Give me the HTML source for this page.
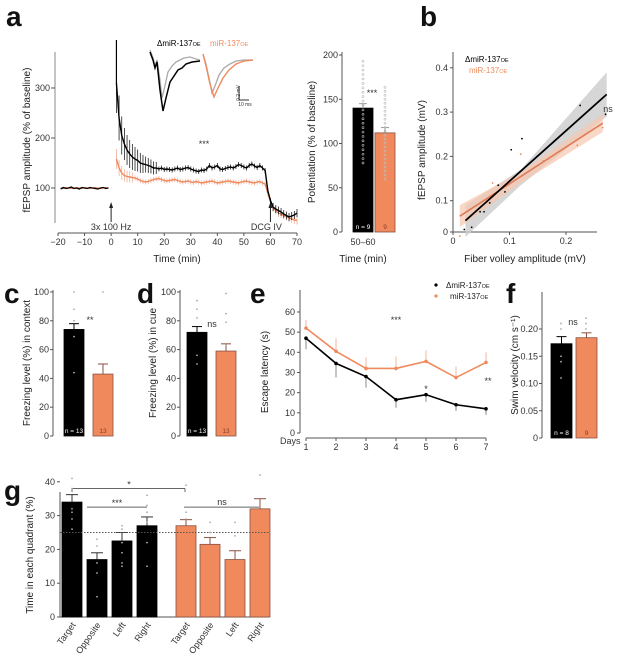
<!DOCTYPE html>
<html><head><meta charset="utf-8"><style>
body{margin:0;background:#fff}
svg{font-family:"Liberation Sans",sans-serif;display:block}
.t{font-size:9px;fill:#333}
.lab{font-size:10px;fill:#222}
.L{font-size:28px;font-weight:bold;fill:#111}
.ax{stroke:#555;stroke-width:1;fill:none}
</style></head><body>
<svg id="fig" width="627" height="659" viewBox="0 0 627 659" xmlns="http://www.w3.org/2000/svg">
<text class="L" x="6" y="26">a</text>
<text class="L" x="420" y="26">b</text>
<text class="L" x="4" y="303">c</text>
<text class="L" x="137" y="303">d</text>
<text class="L" x="250" y="303">e</text>
<text class="L" x="506" y="303">f</text>
<text class="L" x="4" y="500">g</text>
<g id="gA"></g>
<g id="gA2"></g>
<g id="gB"></g>
<g id="gC"></g>
<g id="gD"></g>
<g id="gE"></g>
<g id="gF"></g>
<g id="gG"></g>
</svg>
<script>
const OR='#f08a5d', ORE='#f0b09a';
// ---- panel a data
const ltpBaseB=[98,101,99,100,102,99,100,98,101,100,99,101,100,99,98,100,101,99,100];
const ltpBaseO=[100,99,101,100,99,100,101,100,99,101,100,99,100,101,100,99,100,101,100];
const ltpPostB=[310,240,205,188,176,168,162,158,155,150,148,147,145,143,140,140,138,140,137,138,137,136,138,140,137,138,140,141,138,136,134,133,136,135,138,145,140,142,145,138,137,139,141,142,140,143,147,145,142,140,145,148,144,141,145,140,135,95,75,62,58,55,52,48,45,42,44,46,50];
const ltpPostO=[158,140,130,125,123,122,121,120,118,115,113,112,113,115,117,118,119,117,115,114,115,116,117,115,113,112,113,114,112,111,113,112,110,111,112,113,114,112,110,111,112,113,114,113,112,111,110,112,113,114,112,111,110,112,113,110,108,90,72,60,55,50,48,45,43,40,38,36,35];
const ltpErrB=[60,45,38,32,30,28,26,24,22,20,18,16,15,14,13,12];
const ltpErrO=[20,16,14,12,12,11,10];
const ltpXTicks=[-20,-10,0,10,20,30,40,50,60,70];
const ltpYTicks=[100,200,300];
const potVals=[140,112];
const potErr=[5,6];
const potTicks=[0,50,100,150,200];
const potN=['n = 9','9'];
// ---- panel b data
const ioXB=[0.02,0.033,0.048,0.055,0.065,0.08,0.092,0.103,0.122,0.225,0.27];
const ioYB=[0.035,0.04,0.075,0.075,0.095,0.135,0.12,0.215,0.24,0.315,0.295];
const ioXO=[0.012,0.07,0.12,0.16,0.17,0.22,0.265];
const ioYO=[0.02,0.14,0.205,0.19,0.195,0.225,0.265];
const ioLineB=[0.022,0.272,0.055,0.34];
const ioLineO=[0.012,0.265,0.065,0.275];
const ioXTicks=[0,0.1,0.2];
const ioYTicks=[0,0.1,0.2,0.3,0.4];
// ---- c, d
const ctxVals=[74,43], ctxErr=[4,7];
const cueVals=[72,59], cueErr=[4,5];
const freezeTicks=[0,20,40,60,80,100];
const nLabels=['n = 13','13'];
// ---- e
const days=[1,2,3,4,5,6,7];
const escB=[47,34.5,28,16.5,19,14,12];
const escBErr=[5.5,7,5.5,4,3.5,3,3];
const escO=[52,40.5,32,32,35.5,27.5,35];
const escOErr=[4,6.5,5.5,6,5.5,5.5,5];
const escTicks=[0,10,20,30,40,50,60];
// ---- f
const velVals=[0.173,0.184], velErr=[0.013,0.009];
const velTicks=[0,0.05,0.10,0.15,0.20];
const velN=['n = 8','9'];
// ---- g
const quadCats=['Target','Opposite','Left','Right','Target','Opposite','Left','Right'];
const quadVals=[34,17,22.5,27,27,21.5,17,32];
const quadErr=[2.2,2,2.5,2.6,1.8,2,2.6,3];
const quadTicks=[0,10,20,30,40];

const NS='http://www.w3.org/2000/svg';
function mk(p,tag,at,txt){const e=document.createElementNS(NS,tag);for(const k in at)e.setAttribute(k,at[k]);if(txt!==undefined)e.textContent=txt;p.appendChild(e);return e;}
function line(p,x1,y1,x2,y2,st,w){return mk(p,'line',{x1,y1,x2,y2,stroke:st||'#555','stroke-width':w||1});}
function sub(p,x,y,main,s,col,fs,anchor){const t=mk(p,'text',{x,y,'font-size':fs||8,fill:col,'text-anchor':anchor||'start'});mk(t,'tspan',{},main);mk(t,'tspan',{'font-size':(fs||8)*0.7},s);return t;}

// ===== panel a main
(function(){
const g=document.getElementById('gA');
const X=t=>58+(t+20)*239/90, Y=v=>188-(v-100)*0.5;
line(g,55,52,55,223,'#888');
line(g,58,233,297,233,'#555');
ltpXTicks.forEach(t=>{line(g,X(t),233,X(t),236);const e=mk(g,'text',{x:X(t),y:245,'text-anchor':'middle',class:'t'},t<0?'\u2212'+(-t):t);});
ltpYTicks.forEach(v=>{line(g,51,Y(v),55,Y(v));mk(g,'text',{x:50,y:Y(v)+3,'text-anchor':'end',class:'t'},v);});
mk(g,'text',{x:177,y:262,'text-anchor':'middle',class:'lab'},'Time (min)');
mk(g,'text',{x:30,y:140,'text-anchor':'middle',class:'lab',transform:'rotate(-90 30 140)'},'fEPSP amplitude (% of baseline)');
function series(base,post,err,col,ecol){
 const pts=[];base.forEach((v,i)=>pts.push([X(-19+i),Y(v)]));
 mk(g,'polyline',{points:pts.map(p=>p.join(',')).join(' '),fill:'none',stroke:col,'stroke-width':1.3});
 const pp=[];post.forEach((v,i)=>{const t=2+i;const e=i<err.length?err[i]:(t>60?8:5);
   line(g,X(t),Y(v-e),X(t),Y(v+e),ecol,0.8);pp.push([X(t),Y(v)]);});
 mk(g,'polyline',{points:pp.map(p=>p.join(',')).join(' '),fill:'none',stroke:col,'stroke-width':1.4});
}
series(ltpBaseO,ltpPostO,ltpErrO,OR,ORE);
series(ltpBaseB,ltpPostB,ltpErrB,'#000','#222');
line(g,X(2),Y(ltpPostB[0]),X(2),40,'#000',1.2);
mk(g,'text',{x:204,y:147,'text-anchor':'middle',class:'t'},'***');
[[0,'3x 100 Hz'],[60,'DCG IV']].forEach(([t,s])=>{line(g,X(t),222,X(t),206,'#222');mk(g,'polygon',{points:`${X(t)-2},${208} ${X(t)+2},208 ${X(t)},202`,fill:'#222'});mk(g,'text',{x:X(t)+(t?-4:0),y:230,'text-anchor':'middle',class:'t'},s);});
// insets
sub(g,157,46,'\u0394miR-137','OE','#000',8);
sub(g,210,46,'miR-137','OE',OR,8);
mk(g,'polyline',{points:'150,50 153,58 155,66 157,60 160,80 162,98 164,90 168,72 172,66 176,62 180,60 184,58 190,57 196,59 200,60',fill:'none',stroke:'#aaa','stroke-width':1.3});
mk(g,'polyline',{points:'150,52 153,60 155,68 157,62 160,90 163,111 166,98 170,82 174,76 178,70 182,68 186,64 192,62 200,61',fill:'none',stroke:'#000','stroke-width':1.5});
mk(g,'polyline',{points:'203,54 206,64 209,78 212,93 215,86 219,75 224,68 230,64 236,61 244,60 253,60',fill:'none',stroke:'#aaa','stroke-width':1.3});
mk(g,'polyline',{points:'203,54 206,66 210,84 214,97 218,88 223,78 229,70 236,64 244,61 253,60',fill:'none',stroke:OR,'stroke-width':1.4});
line(g,239,86,239,100,'#333');line(g,239,100,249,100,'#333');
mk(g,'text',{x:237,y:96,'font-size':'5',fill:'#333','text-anchor':'middle',transform:'rotate(-90 237 93)'},'0.2 mV');
mk(g,'text',{x:245,y:106,'font-size':'5',fill:'#333','text-anchor':'middle'},'10 ms');
})();
// ===== potentiation bar
(function(){
const g=document.getElementById('gA2');
const Y=v=>232-v*0.885;
line(g,342,52,342,232,'#555');
potTicks.forEach(v=>{line(g,339,Y(v),342,Y(v));mk(g,'text',{x:338,y:Y(v)+3,'text-anchor':'end',class:'t'},v);});
const bx=[353,375],cols=['#000',OR];
potVals.forEach((v,i)=>{const r=mk(g,'rect',{x:bx[i],y:Y(v),width:20,height:Y(0)-Y(v),fill:cols[i],stroke:i?'#8a5040':'#000','stroke-width':0.8});
 
 line(g,bx[i]+10,Y(v),bx[i]+10,Y(v+potErr[i]),'#999');line(g,bx[i]+6,Y(v+potErr[i]),bx[i]+14,Y(v+potErr[i]),'#999');
 for(let k=0;k<24;k++){const vv=(i?60:78)+k*(i?4.5:5);mk(g,'circle',{cx:bx[i]+10,cy:Y(vv),r:1,fill:'none',stroke:'#bbb','stroke-width':0.6});}
 mk(g,'text',{x:bx[i]+10,y:229,'text-anchor':'middle','font-size':'6.5',fill:i?'#8a3a20':'#fff'},potN[i]);});
mk(g,'text',{x:372,y:96,'text-anchor':'middle',class:'t'},'***');
mk(g,'text',{x:363,y:245,'text-anchor':'middle',class:'t'},'50\u201360');
mk(g,'text',{x:363,y:262,'text-anchor':'middle',class:'lab'},'Time (min)');
mk(g,'text',{x:315,y:142,'text-anchor':'middle',class:'lab',transform:'rotate(-90 315 142)'},'Potentiation (% of baseline)');
})();
// ===== panel b
(function(){
const g=document.getElementById('gB');
const X=v=>453+v*565, Y=v=>245-v*443;
line(g,453,52,453,232,'#555');line(g,453,232,597,232,'#555');
ioXTicks.forEach(v=>{line(g,X(v),232,X(v),235);mk(g,'text',{x:X(v),y:244,'text-anchor':'middle',class:'t'},v);});
ioYTicks.forEach(v=>{const y=v===0?232:Y(v);line(g,450,y,453,y);mk(g,'text',{x:448,y:y+3,'text-anchor':'end',class:'t'},v);});
mk(g,'polygon',{points:`${X(0.022)},${Y(0.09)} ${X(0.12)},${Y(0.17)} ${X(0.272)},${Y(0.39)} ${X(0.272)},${Y(0.29)} ${X(0.12)},${Y(0.135)} ${X(0.022)},${Y(0.018)}`,fill:'#ccc',opacity:0.8});
mk(g,'polygon',{points:`${X(0.012)},${Y(0.09)} ${X(0.12)},${Y(0.165)} ${X(0.265)},${Y(0.295)} ${X(0.265)},${Y(0.255)} ${X(0.12)},${Y(0.14)} ${X(0.012)},${Y(0.04)}`,fill:'#f6c8b0',opacity:0.7});
line(g,X(ioLineO[0]),Y(ioLineO[2]),X(ioLineO[1]),Y(ioLineO[3]),'#e07a55',1.6);
line(g,X(ioLineB[0]),Y(ioLineB[2]),X(ioLineB[1]),Y(ioLineB[3]),'#000',1.8);
ioXB.forEach((v,i)=>mk(g,'circle',{cx:X(v),cy:Y(ioYB[i]),r:0.9,fill:'#000'}));
ioXO.forEach((v,i)=>mk(g,'circle',{cx:X(v),cy:Y(ioYO[i]),r:0.9,fill:OR}));
sub(g,465,62,'\u0394miR-137','OE','#000',8);
sub(g,469,73,'miR-137','OE',OR,8);
mk(g,'text',{x:608,y:112,'text-anchor':'middle',class:'t'},'ns');
mk(g,'text',{x:525,y:262,'text-anchor':'middle',class:'lab'},'Fiber volley amplitude (mV)');
mk(g,'text',{x:425,y:150,'text-anchor':'middle',class:'lab',transform:'rotate(-90 425 150)'},'fEPSP amplitude (mV)');
// legend for e
mk(g,'circle',{cx:436,cy:285,r:1.6,fill:'#000'});mk(g,'circle',{cx:436,cy:296,r:1.6,fill:OR});
sub(g,446,288,'\u0394miR-137','OE','#222',8);
sub(g,450,299,'miR-137','OE','#222',8);
})();
// ===== bar helper for c,d,f
function barPanel(id,axX,y0,yTop,pxPer,vals,errs,ticks,bx,bw,nl,lab,labX,sig,fmt){
 const g=document.getElementById(id);const Y=v=>y0-v*pxPer;
 line(g,axX,yTop,axX,y0,'#555');
 ticks.forEach(v=>{line(g,axX-3,Y(v),axX,Y(v));mk(g,'text',{x:axX-4,y:Y(v)+3,'text-anchor':'end',class:'t'},fmt?fmt(v):v);});
 vals.forEach((v,i)=>{const r=mk(g,'rect',{x:bx[i],y:Y(v),width:bw,height:y0-Y(v),fill:i?OR:'#000',stroke:i?'#8a5040':'#000','stroke-width':0.8});
  
  const e=Y(v+errs[i]);line(g,bx[i]+bw/2,Y(v),bx[i]+bw/2,e,i?'#8a5040':'#000');line(g,bx[i]+bw/2-5,e,bx[i]+bw/2+5,e,i?'#8a5040':'#000');
  mk(g,'text',{x:bx[i]+bw/2,y:y0-3,'text-anchor':'middle','font-size':'6.5',fill:i?'#8a3a20':'#fff'},nl[i]);});
 mk(g,'text',{x:sig[0],y:sig[1],'text-anchor':'middle',class:'t'},sig[2]);
 const cy=(y0+yTop)/2;mk(g,'text',{x:labX,y:cy,'text-anchor':'middle',class:'lab',transform:`rotate(-90 ${labX} ${cy})`},lab);
 return {g,Y};
}
let c=barPanel('gC',53,436,290,1.44,ctxVals,ctxErr,freezeTicks,[64,93],20,nLabels,'Freezing level (%) in context',30,[90,323,'**']);
[100,100,88,80,69,44].forEach((v,i)=>mk(c.g,'circle',{cx:i==1?103:74,cy:c.Y(v),r:0.9,fill:'#aaa'}));
let d=barPanel('gD',180,436,290,1.44,cueVals,cueErr,freezeTicks,[187,216],20,nLabels,'Freezing level (%) in cue',156,[212,327,'ns']);
[94,88,82,56,50].forEach(v=>mk(d.g,'circle',{cx:197,cy:d.Y(v),r:0.9,fill:'#aaa'}));
[99,85,79,63].forEach(v=>mk(d.g,'circle',{cx:226,cy:d.Y(v),r:0.9,fill:'#aaa'}));
let f=barPanel('gF',542,438,292,545,velVals,velErr,velTicks,[551,576],21,velN,'Swim velocity (cm s\u207B\u00B9)',518,[573,325,'ns'],v=>v===0?'0':v.toFixed(2));
[0.21,0.2,0.15,0.14,0.11].forEach(v=>mk(f.g,'circle',{cx:561,cy:f.Y(v),r:0.9,fill:'#aaa'}));
[0.22,0.21,0.2].forEach(v=>mk(f.g,'circle',{cx:586,cy:f.Y(v),r:0.9,fill:'#aaa'}));
// ===== panel e
(function(){
const g=document.getElementById('gE');
const X=dd=>306+(dd-1)*30, Y=v=>433-v*2.017;
line(g,300,290,300,433,'#555');line(g,306,438,486,438,'#555');
escTicks.forEach(v=>{line(g,297,Y(v),300,Y(v));mk(g,'text',{x:295,y:Y(v)+3,'text-anchor':'end',class:'t'},v);});
days.forEach(dd=>{line(g,X(dd),438,X(dd),441);mk(g,'text',{x:X(dd),y:450,'text-anchor':'middle',class:'t'},dd);});
mk(g,'text',{x:280,y:444,class:'t'},'Days');
function s(v,err,col,ecol){days.forEach((dd,i)=>{line(g,X(dd),Y(v[i]),X(dd),Y(v[i]+(col==='#000'?-err[i]:err[i])),ecol);});
 mk(g,'polyline',{points:days.map((dd,i)=>X(dd)+','+Y(v[i])).join(' '),fill:'none',stroke:col,'stroke-width':1.6});
 days.forEach((dd,i)=>{const p=mk(g,'circle',{cx:X(dd),cy:Y(v[i]),r:1.8,fill:col});});}
s(escO,escOErr,OR,'#f0b8a0');s(escB,escBErr,'#000','#888');
mk(g,'text',{x:396,y:323,'text-anchor':'middle',class:'t'},'***');
mk(g,'text',{x:426,y:392,'text-anchor':'middle',class:'t'},'*');
mk(g,'text',{x:488,y:384,'text-anchor':'middle',class:'t'},'**');
mk(g,'text',{x:268,y:372,'text-anchor':'middle',class:'lab',transform:'rotate(-90 268 372)'},'Escape latency (s)');
})();
// ===== panel g
(function(){
const g=document.getElementById('gG');
const Y=v=>617-v*3.38;const bx=[62,87,112,137,176,200,225,250];
line(g,60,492,60,617,'#555');line(g,60,617,269,617,'#555');
quadTicks.forEach(v=>{line(g,57,Y(v),60,Y(v));mk(g,'text',{x:55,y:Y(v)+3,'text-anchor':'end',class:'t'},v);});
quadVals.forEach((v,i)=>{const o=i>=4;const r=mk(g,'rect',{x:bx[i],y:Y(v),width:20,height:617-Y(v),fill:o?OR:'#000',stroke:o?'#8a5040':'#000','stroke-width':0.8});
 
 const e=Y(v+quadErr[i]);const col=o?'#8a5040':'#333';line(g,bx[i]+10,Y(v),bx[i]+10,e,col);line(g,bx[i]+4,e,bx[i]+16,e,col);
 mk(g,'text',{x:bx[i]+14,y:625,'text-anchor':'end',class:'t',transform:`rotate(-55 ${bx[i]+14} 625)`},quadCats[i]);});
line(g,60,Y(25),270,Y(25),'#555',1).setAttribute('stroke-dasharray','1.5,1.5');
line(g,72,Y(38),185,Y(38),'#666');line(g,72,Y(38),72,Y(37),'#666');line(g,185,Y(38),185,Y(37),'#666');
mk(g,'text',{x:129,y:Y(38)-1,'text-anchor':'middle',class:'t'},'*');
line(g,87,Y(32.5),147,Y(32.5),'#666');mk(g,'text',{x:117,y:Y(32.5)-1,'text-anchor':'middle',class:'t'},'***');
line(g,184,Y(32.5),259,Y(32.5),'#666');mk(g,'text',{x:222,y:Y(32.5)-2,'text-anchor':'middle',class:'t'},'ns');
[[72,[41,38,32,31,29,26]],[97,[23,21,16,13,6]],[122,[27,26,22,19,16,15]],[147,[36,33,31,28,22,15]],[186,[39,31,29]],[210,[28,25]],[235,[28,24]],[260,[42]]].forEach(([x,a])=>a.forEach(v=>mk(g,'circle',{cx:x,cy:Y(v),r:0.9,fill:'#aaa'})));
mk(g,'text',{x:33,y:555,'text-anchor':'middle',class:'lab',transform:'rotate(-90 33 555)'},'Time in each quadrant (%)');
})();
</script>
</body></html>
